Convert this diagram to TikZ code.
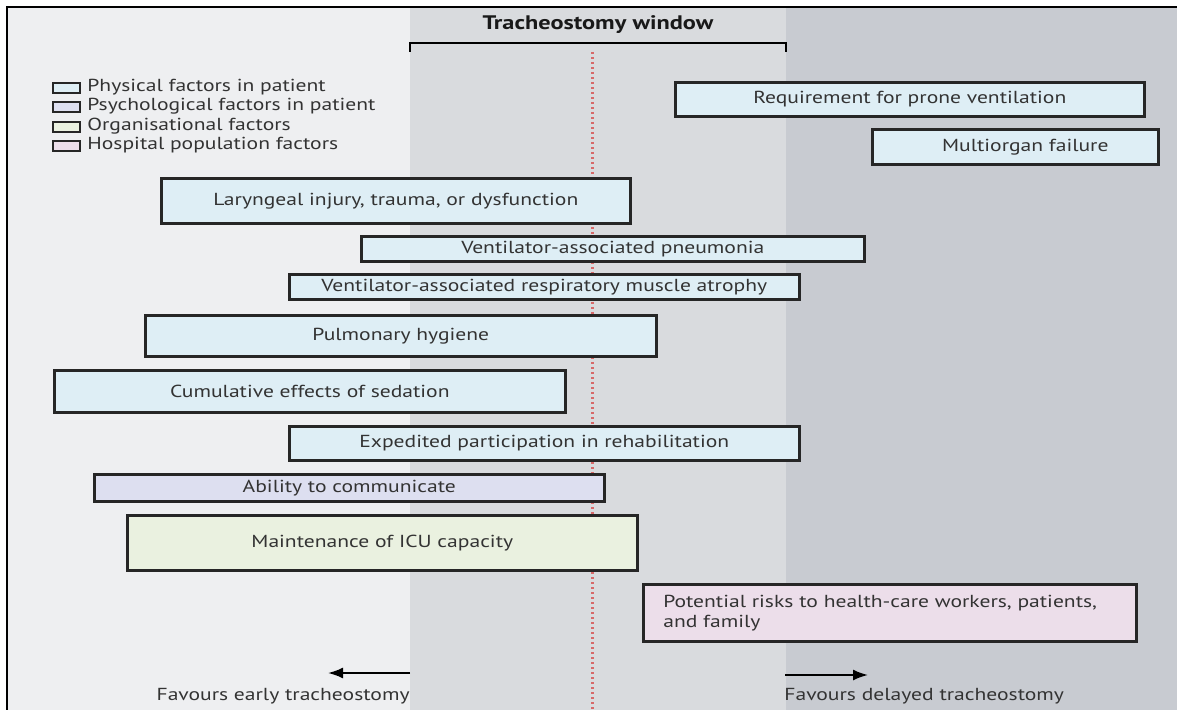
\documentclass[tikz,border=0pt]{standalone}
\usepackage{fontspec}
\setmainfont{PT Sans}[FakeStretch=1.24]
\usetikzlibrary{arrows.meta}

\definecolor{leftbg}{RGB}{238,239,241}
\definecolor{midbg}{RGB}{217,219,222}
\definecolor{rightbg}{RGB}{200,203,209}
\definecolor{physical}{RGB}{222,238,245}
\definecolor{psycho}{RGB}{221,223,240}
\definecolor{organis}{RGB}{234,241,224}
\definecolor{hospital}{RGB}{236,222,234}
\definecolor{midred}{RGB}{215,105,105}
\definecolor{textgray}{RGB}{51,51,51}

\begin{document}
\begin{tikzpicture}[x=0.5pt,y=-0.5pt]
\tikzstyle{every node}+=[inner sep=0pt, text=textgray, font=\fontsize{8.7}{10}\selectfont]
\tikzstyle{factor}=[draw=black!85, line width=1.3pt, anchor=north west, align=center]
\tikzstyle{swatch}=[draw=black!85, line width=1pt, minimum width=13.5pt, minimum height=5pt]
\useasboundingbox (0,0) rectangle (1177,710);
% background bands
\fill [white] (0,0) rectangle (1177,710);
\fill [leftbg] (7,7) rectangle (410,710);
\fill [midbg] (410,7) rectangle (786,710);
\fill [rightbg] (786,7) rectangle (1177,710);
\draw [line width=1pt] (7,710) -- (7,7) -- (1177,7);
% window bracket
\node [font=\fontsize{9.8}{11}\selectfont\bfseries, text=black!90] (window) at (598,25) {Tracheostomy window};
\coordinate (winL) at (410,43);
\coordinate (winR) at (786,43);
\draw [line width=1pt] (winL) ++(0,9) -- (winL) -- (winR) -- ++(0,9);
\coordinate (midtop) at (592,52);
\coordinate (midbot) at (592,710);
\draw [midred, line width=1.5pt, dash pattern=on 1pt off 1.5pt] (midtop) -- (midbot);
% key
\node [swatch, fill=physical] (keyphys) at (66.5,88) {};
\node [right] (keyphystext) at (87,87) {Physical factors in patient};
\node [swatch, fill=psycho] (keypsy) at (66.5,107) {};
\node [right] (keypsytext) at (87,106) {Psychological factors in patient};
\node [swatch, fill=organis] (keyorg) at (66.5,127) {};
\node [right] (keyorgtext) at (87,126) {Organisational factors};
\node [swatch, fill=hospital] (keyhosp) at (66.5,146) {};
\node [right] (keyhosptext) at (87,145) {Hospital population factors};
% factors
\node [factor, fill=physical, minimum width=234.5pt, minimum height=17pt] (prone) at (674,81) {Requirement for prone ventilation};
\node [factor, fill=physical, minimum width=143pt, minimum height=17.5pt] (organ) at (871,128) {\hspace*{10pt}Multiorgan failure};
\node [factor, fill=physical, minimum width=234.5pt, minimum height=22.5pt] (larynx) at (160,177) {Laryngeal injury, trauma, or dysfunction};
\node [factor, fill=physical, minimum width=251.5pt, minimum height=12.5pt] (pneumonia) at (360,235) {Ventilator-associated pneumonia};
\node [factor, fill=physical, minimum width=255pt, minimum height=12.5pt] (atrophy) at (288,273) {Ventilator-associated respiratory muscle atrophy};
\node [factor, fill=physical, minimum width=255.5pt, minimum height=20.5pt] (hygiene) at (144,314) {Pulmonary hygiene};
\node [factor, fill=physical, minimum width=255.5pt, minimum height=21pt] (sedation) at (53,369) {Cumulative effects of sedation};
\node [factor, fill=physical, minimum width=255pt, minimum height=17pt] (rehab) at (288,425) {Expedited participation in rehabilitation};
\node [factor, fill=psycho, minimum width=255pt, minimum height=13.5pt] (talk) at (93,473) {Ability to communicate};
\node [factor, fill=organis, minimum width=255pt, minimum height=27.5pt] (icu) at (126,514) {Maintenance of ICU capacity};
\node [factor, fill=hospital, minimum height=28.5pt, text width=226.5pt, inner xsep=10pt, align=left] (risks) at (642,583) {Potential risks to health-care workers, patients,\\and family};
% direction arrows
\coordinate (earlyfrom) at (410,673);
\coordinate (earlyto) at (328,673);
\draw [-{Latex[length=7.5pt,width=5.5pt]}, line width=1pt] (earlyfrom) -- (earlyto);
\coordinate (latefrom) at (785,675);
\coordinate (lateto) at (868,675);
\draw [-{Latex[length=7.5pt,width=5.5pt]}, line width=1pt] (latefrom) -- (lateto);
\node [left] (earlytext) at (410,696) {Favours early tracheostomy};
\node [right] (latetext) at (784,696) {Favours delayed tracheostomy};
\end{tikzpicture}
\end{document}
